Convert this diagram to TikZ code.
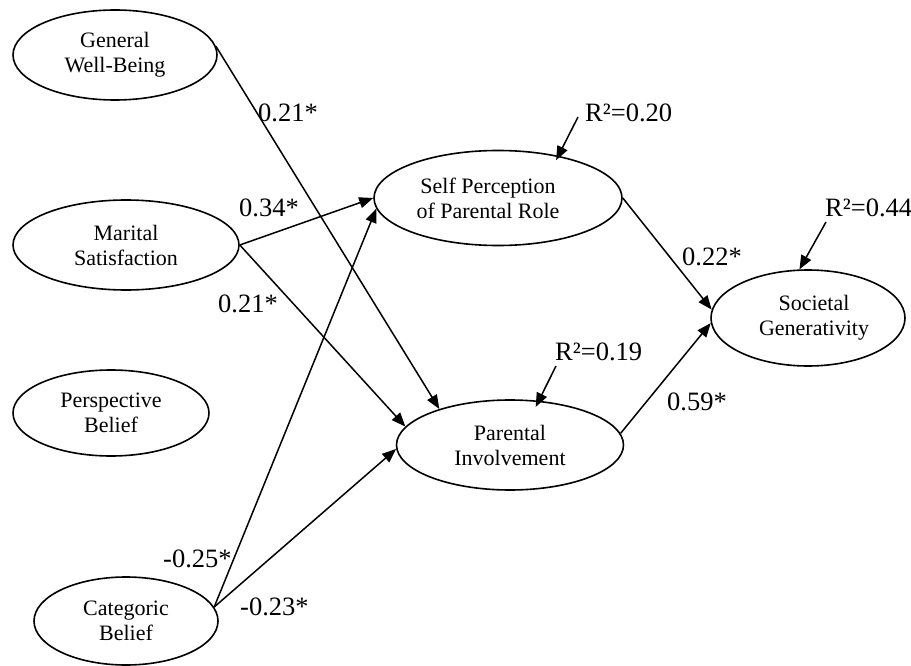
\documentclass[tikz,border=0pt]{standalone}
\usepackage{fontspec}
\setmainfont{Liberation Serif}
\usetikzlibrary{shapes.geometric,arrows.meta}
\begin{document}
\begin{tikzpicture}[x=1pt,y=-1pt,
  latent/.style={draw, ellipse, line width=1.6pt, inner sep=0pt, align=center,
    font=\fontsize{22}{25}\selectfont},
  coef/.style={font=\fontsize{26.5}{30}\selectfont, inner sep=0pt, anchor=base west},
  effect/.style={-{Triangle[length=14pt,width=11pt]}, line width=1.5pt},
]
\useasboundingbox (0,0) rectangle (911,666);

% latent constructs
\node[latent, minimum width=204, minimum height=90] (gwb) at (115,55) {General\\Well-Being};
\node[latent, minimum width=226, minimum height=90] (mar) at (126,245) {Marital\\Satisfaction};
\node[latent, minimum width=196, minimum height=86] (per) at (111,413) {Perspective\\Belief};
\node[latent, minimum width=184, minimum height=88] (cat) at (126,621) {Categoric\\Belief};
\node[latent, minimum width=248, minimum height=95] (sp) at (498,198) {};
\node[font=\fontsize{22}{25}\selectfont, align=center, inner sep=0pt] (sptext) at (488,198) {Self Perception\\of Parental Role};
\node[latent, minimum width=227, minimum height=90] (pi) at (510,445) {Parental\\Involvement};
\node[latent, minimum width=194, minimum height=96] (soc) at (808,318) {};
\node[font=\fontsize{22}{25}\selectfont, align=center, inner sep=0pt] (soctext) at (814,318) {Societal\\Generativity};

% structural paths
\draw[effect] (gwb.5) -- (pi.153);
\draw[effect] (mar.east) -- (sp.west);
\draw[effect] (mar.east) -- (pi.170);
\draw[effect] (cat.9) -- (sp.185);
\draw[effect] (cat.9) -- (pi.182);
\draw[effect] (sp.east) -- (soc.175);
\draw[effect] (pi.6) -- (soc.183);

% explained variance
\coordinate (r2sp) at (578,117);
\coordinate (r2pi) at (556,366);
\coordinate (r2soc) at (826,222);
\draw[effect, shorten >=-5pt] (r2sp) -- (sp.35);
\draw[effect, shorten >=-7pt] (r2pi) -- (pi.57);
\draw[effect] (r2soc) -- (soc.100);
\node[coef] (r2sptext) at (585,122) {R²=0.20};
\node[coef] (r2pitext) at (555,360) {R²=0.19};
\node[coef] (r2soctext) at (825,217) {R²=0.44};

% path coefficients
\node[coef] (c1) at (258,122) {0.21*};
\node[coef] (c2) at (239,217) {0.34*};
\node[coef] (c3) at (218,312) {0.21*};
\node[coef] (c4) at (163,567) {-0.25*};
\node[coef] (c5) at (240,615) {-0.23*};
\node[coef] (c6) at (682,265) {0.22*};
\node[coef] (c7) at (667,410) {0.59*};
\end{tikzpicture}
\end{document}
